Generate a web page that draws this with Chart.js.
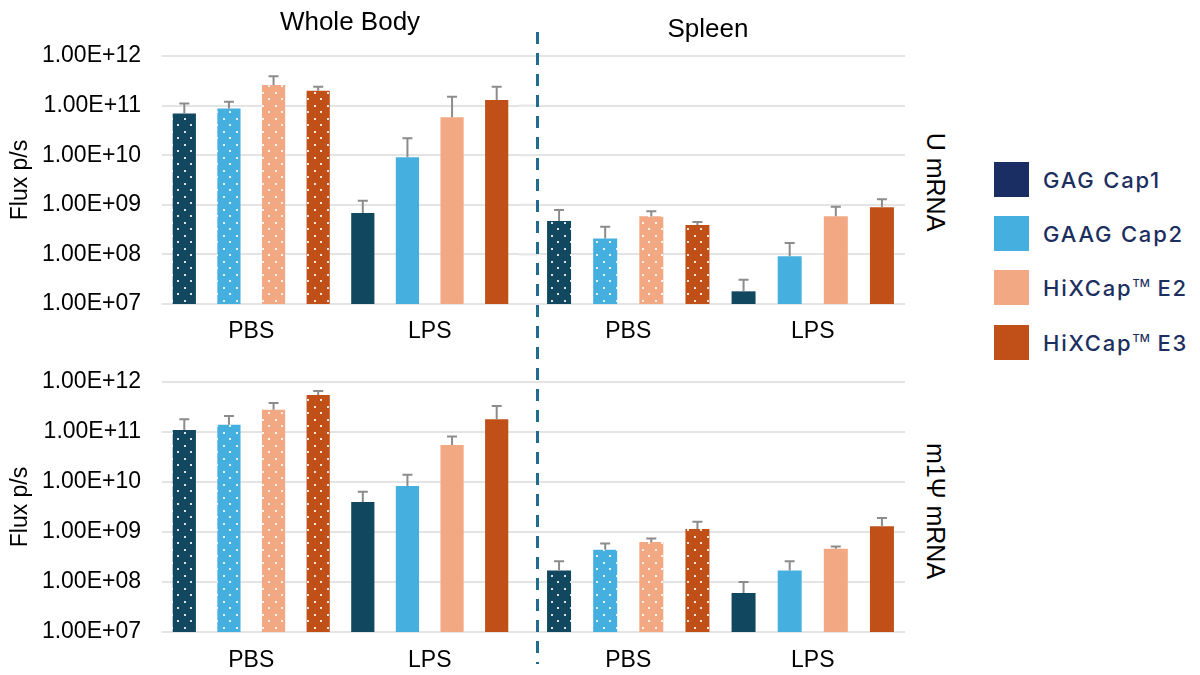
<!DOCTYPE html>
<html lang="en">
<head>
    <meta charset="UTF-8">
    <title>Flux p/s - Whole Body / Spleen</title>
    <script src="https://cdn.jsdelivr.net/npm/chart.js"></script>
    <style>
        body { margin: 0; background: #fff; }
        #wrap { position: relative; width: 1200px; height: 675px; overflow: hidden; font-family: "Liberation Sans", Arial, sans-serif; color: #000; }
        .box { position: absolute; }
        .title { position: absolute; font-size: 26px; line-height: 1; transform: translate(-50%, -50%); white-space: nowrap; }
        .rowlab { position: absolute; font-size: 25px; line-height: 1; transform: translate(-50%, -50%) rotate(90deg); white-space: nowrap; }
        #divider { position: absolute; left: 536px; top: 32px; width: 3px; height: 632px;
            background: repeating-linear-gradient(to bottom, #1f6d8e 0 12px, transparent 12px 21px); }
        .leg { position: absolute; left: 994px; height: 35px; display: flex; align-items: center;
            font-family: Inter, "Noto Sans", sans-serif; font-size: 22px; font-weight: 500; letter-spacing: 1.8px; color: #1c2f5f; white-space: nowrap; }
        .leg i { display: inline-block; width: 35px; height: 35px; margin-right: 14px; flex: none; }
        .leg sup { font-size: 11px; letter-spacing: 0; vertical-align: 9px; }
    </style>
</head>
<body>
<div id="wrap">
    <div class="box" style="left:0;top:0"><canvas id="uWhole" width="538" height="350"></canvas></div>
    <div class="box" style="left:536px;top:0"><canvas id="uSpleen" width="369" height="350"></canvas></div>
    <div class="box" style="left:0;top:340px"><canvas id="mWhole" width="538" height="335"></canvas></div>
    <div class="box" style="left:536px;top:340px"><canvas id="mSpleen" width="369" height="335"></canvas></div>

    <div id="divider"></div>
    <div class="title" style="left:350px;top:21px">Whole Body</div>
    <div class="title" style="left:708px;top:28px">Spleen</div>
    <div class="rowlab" style="left:935px;top:182px">U mRNA</div>
    <div class="rowlab" style="left:935px;top:511px">m1Ψ mRNA</div>

    <div class="leg" style="top:162px"><i style="background:#1a2e64"></i><span>GAG Cap1</span></div>
    <div class="leg" style="top:216px"><i style="background:#45b0e0"></i><span>GAAG Cap2</span></div>
    <div class="leg" style="top:270px"><i style="background:#f2a983"></i><span>HiXCap<sup>TM</sup> E2</span></div>
    <div class="leg" style="top:325px"><i style="background:#c05018"></i><span>HiXCap<sup>TM</sup> E3</span></div>
</div>

<script>
    // 그룹과 시리즈
    const groups = ['PBS', 'LPS'];
    const seriesNames = ['GAG Cap1', 'GAAG Cap2', 'HiXCap™ E2', 'HiXCap™ E3'];
    const barColors = ['#11475f', '#45b0e0', '#f2a983', '#c05018'];
    const yTicks = [1e7, 1e8, 1e9, 1e10, 1e11, 1e12];

    // 행: GAG Cap1, GAAG Cap2, HiXCap E2, HiXCap E3 / 열: PBS, LPS
    const uWholeMean = [[6.9e10, 6.8e8], [8.7e10, 9.1e9], [2.6e11, 5.8e10], [2.0e11, 1.3e11]];
    const uWholeTop  = [[1.1e11, 1.2e9], [1.2e11, 2.2e10], [3.9e11, 1.5e11], [2.4e11, 2.4e11]];

    const uSpleenMean = [[4.7e8, 1.8e7], [2.1e8, 9.2e7], [5.9e8, 5.9e8], [3.9e8, 8.9e8]];
    const uSpleenTop  = [[7.9e8, 3.1e7], [3.6e8, 1.7e8], [7.4e8, 9.1e8], [4.5e8, 1.3e9]];

    const mWholeMean = [[1.1e11, 4.0e9], [1.4e11, 8.3e9], [2.8e11, 5.5e10], [5.5e11, 1.8e11]];
    const mWholeTop  = [[1.8e11, 6.4e9], [2.1e11, 1.4e10], [3.8e11, 8.1e10], [6.6e11, 3.3e11]];

    const mSpleenMean = [[1.7e8, 6.0e7], [4.4e8, 1.7e8], [6.3e8, 4.6e8], [1.15e9, 1.3e9]];
    const mSpleenTop  = [[2.6e8, 1.0e8], [5.9e8, 2.6e8], [7.4e8, 5.1e8], [1.6e9, 1.9e9]];

    Chart.defaults.font.family = '"Liberation Sans", Arial, sans-serif';
    Chart.defaults.color = '#000';

    const gridColor = '#e4e4e4';

    // PBS 막대의 흰 점 무늬
    function dotted(ctx, color) {
        const tile = document.createElement('canvas');
        tile.width = 13; tile.height = 13;
        const t = tile.getContext('2d');
        t.fillStyle = color;
        t.fillRect(0, 0, 13, 13);
        t.fillStyle = 'rgba(255,255,255,0.85)';
        t.fillRect(2, 1, 2, 2);
        t.fillRect(8, 7, 2, 2);
        return ctx.createPattern(tile, 'repeat');
    }

    function fmt(v) {
        return Number(v).toExponential(2).toUpperCase().replace(/E\+(\d)$/, 'E+0$1');
    }

    // 위쪽 오차 막대
    const errorBars = {
        id: 'errorBars',
        afterDatasetsDraw(chart) {
            const ctx = chart.ctx;
            const y = chart.scales.y;
            chart.data.datasets.forEach((ds, i) => {
                chart.getDatasetMeta(i).data.forEach((bar, j) => {
                    const top = y.getPixelForValue(ds.errTop[j]);
                    ctx.save();
                    ctx.strokeStyle = '#8c8c8c';
                    ctx.lineWidth = 2;
                    ctx.beginPath();
                    ctx.moveTo(bar.x, bar.y);
                    ctx.lineTo(bar.x, top);
                    ctx.moveTo(bar.x - 5, top);
                    ctx.lineTo(bar.x + 5, top);
                    ctx.stroke();
                    ctx.restore();
                });
            });
        }
    };

    // 왼쪽 차트의 격자선을 점선까지 연장
    const gridExtend = {
        id: 'gridExtend',
        beforeDatasetsDraw(chart) {
            const {ctx, chartArea, scales: {y}} = chart;
            if (chartArea.right >= chart.width) return;
            ctx.save();
            ctx.strokeStyle = gridColor;
            ctx.lineWidth = 2;
            y.ticks.forEach(t => {
                const py = y.getPixelForValue(t.value);
                ctx.beginPath();
                ctx.moveTo(chartArea.right, py);
                ctx.lineTo(chart.width, py);
                ctx.stroke();
            });
            ctx.restore();
        }
    };

    function makeChart(id, means, tops, left, padTop, xHeight, xPad) {
        const canvas = document.getElementById(id);
        const ctx = canvas.getContext('2d');
        const datasets = seriesNames.map((name, i) => ({
            label: name,
            data: means[i],
            errTop: tops[i],
            backgroundColor: [dotted(ctx, barColors[i]), barColors[i]],
            categoryPercentage: 1,
            barPercentage: 0.52
        }));
        new Chart(ctx, {
            type: 'bar',
            data: { labels: groups, datasets: datasets },
            options: {
                responsive: false,
                animation: false,
                devicePixelRatio: 1,
                layout: { padding: { top: padTop, right: left ? 19 : 0, left: 0, bottom: 0 } },
                plugins: { legend: { display: false }, tooltip: { enabled: false } },
                scales: {
                    x: {
                        grid: { display: false, drawTicks: false },
                        border: { display: false },
                        ticks: { font: { size: 23 }, color: '#000', padding: xPad },
                        afterFit: s => { s.height = xHeight; }
                    },
                    y: {
                        type: 'logarithmic',
                        min: 1e7,
                        max: 1e12,
                        afterBuildTicks: s => { s.ticks = yTicks.map(v => ({ value: v })); },
                        afterFit: s => { s.width = left ? 162 : 0; },
                        grid: { color: gridColor, lineWidth: 2, drawTicks: false },
                        border: { display: false },
                        ticks: { display: left, padding: 21, autoSkip: false, font: { size: 23 }, color: '#000', callback: v => fmt(v) },
                        title: { display: left, text: 'Flux p/s', font: { size: 23 }, color: '#000', padding: { top: 7, bottom: 0 } }
                    }
                }
            },
            plugins: [gridExtend, errorBars]
        });
    }

    makeChart('uWhole', uWholeMean, uWholeTop, true, 56, 46, 14);
    makeChart('uSpleen', uSpleenMean, uSpleenTop, false, 56, 46, 14);
    makeChart('mWhole', mWholeMean, mWholeTop, true, 42, 43, 15);
    makeChart('mSpleen', mSpleenMean, mSpleenTop, false, 42, 43, 15);
</script>
</body>
</html>
